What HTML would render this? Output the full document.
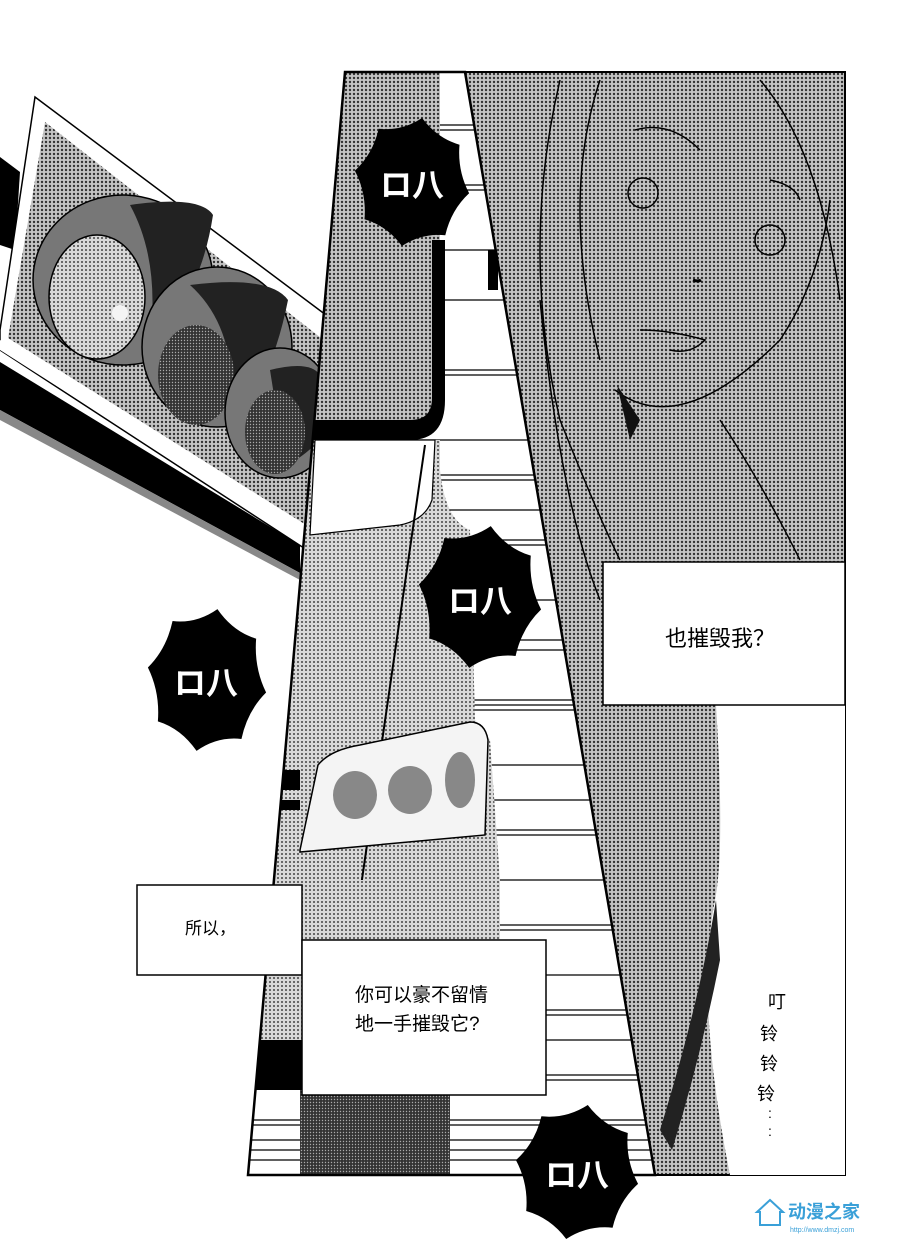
<!DOCTYPE html>
<html><head><meta charset="utf-8"><style>
html,body{margin:0;padding:0;background:#fff;}
svg{display:block;}
.t{font-family:"Liberation Sans","Noto Sans CJK SC",sans-serif;fill:#000;}
.b{font-family:"Liberation Sans","Noto Sans CJK SC",sans-serif;fill:#fff;font-weight:bold;}
</style></head><body>
<svg width="900" height="1247" viewBox="0 0 900 1247" xmlns="http://www.w3.org/2000/svg">
<defs>
<pattern id="dots" width="4" height="4" patternUnits="userSpaceOnUse"><rect width="4" height="4" fill="#c4c4c4"/><circle cx="2" cy="2" r="1.2" fill="#333"/></pattern>
<pattern id="dotl" width="4" height="4" patternUnits="userSpaceOnUse"><rect width="4" height="4" fill="#d8d8d8"/><circle cx="2" cy="2" r="1" fill="#444"/></pattern>
<pattern id="dark" width="3" height="3" patternUnits="userSpaceOnUse"><rect width="3" height="3" fill="#333"/><circle cx="1.5" cy="1.5" r="0.7" fill="#aaa"/></pattern>
<clipPath id="cp"><polygon points="345,72 465,72 655,1175 248,1175"/></clipPath>
<path id="burst" d="M .985 .174 Q .675 .43 .574 .819 Q .173 .781 -.174 .985 Q -.43 .675 -.819 .574 Q -.781 .173 -.985 -.174 Q -.675 -.43 -.574 -.819 Q -.173 -.781 .174 -.985 Q .43 -.675 .819 -.574 Q .781 -.173 .985 .174 Z"/>
</defs>

<!-- traffic light -->
<polygon points="0,157 20,172 15,250 0,245" fill="#000"/>
<polygon points="35,97 330,318 330,565 0,350 0,330 " fill="#fff" stroke="#000" stroke-width="1.5"/>
<polygon points="45,122 330,345 330,540 8,338" fill="url(#dots)"/>
<polygon points="0,350 330,560 330,545 0,340" fill="#fff"/>
<polygon points="0,362 300,545 300,573 0,410" fill="#000"/>
<polygon points="0,410 300,573 300,580 0,420" fill="#888"/>
<ellipse cx="123" cy="280" rx="90" ry="85" fill="#777" stroke="#000" stroke-width="1.5"/>
<path d="M130,205 Q200,195 213,215 Q200,300 150,340 Q160,260 130,205Z" fill="#222"/>
<ellipse cx="97" cy="297" rx="48" ry="62" fill="url(#dotl)" stroke="#000" stroke-width="1.5"/>
<circle cx="120" cy="313" r="8" fill="#f4f4f4"/>
<ellipse cx="217" cy="347" rx="75" ry="80" fill="#777" stroke="#000" stroke-width="1.5"/>
<path d="M190,285 Q270,275 288,300 Q270,390 230,420 Q240,330 190,285Z" fill="#222"/>
<ellipse cx="196" cy="375" rx="38" ry="50" fill="url(#dark)"/>
<ellipse cx="280" cy="413" rx="55" ry="65" fill="#777" stroke="#000" stroke-width="1.5"/>
<path d="M270,370 Q310,360 320,375 L320,440 Q300,460 285,465Z" fill="#222"/>
<ellipse cx="275" cy="432" rx="30" ry="42" fill="url(#dark)"/>

<!-- right panel -->
<polygon points="465,72 845,72 845,1175 655,1175" fill="url(#dots)" stroke="#000" stroke-width="2"/>
<path d="M716,705 Q725,850 715,900 Q695,1000 730,1175 L845,1175 L845,705 Z" fill="#fff"/>
<path d="M716,900 Q700,1000 660,1130 L672,1150 Q700,1060 720,960Z" fill="#222"/>
<g fill="none" stroke="#000" stroke-width="1.5">
<circle cx="643" cy="193" r="15"/><circle cx="770" cy="240" r="15"/>
<path d="M635,130 Q670,120 700,150"/><path d="M770,180 Q795,185 800,200"/>
<path d="M640,330 Q670,330 705,340 Q690,355 670,350"/>
<path d="M615,390 Q680,440 780,340 Q820,280 830,200"/>
<path d="M560,80 Q520,250 560,420 Q600,520 620,560"/>
<path d="M600,80 Q560,200 600,360"/>
<path d="M760,80 Q820,150 840,300"/>
<path d="M720,420 Q760,480 800,560"/>
<path d="M540,300 Q560,500 600,600"/>
</g>
<path d="M693,280 q5,2 8,0" stroke="#000" stroke-width="3" fill="none"/>
<path d="M617,385 L640,420 L630,440 Z" fill="#111"/>

<!-- center panel -->
<g clip-path="url(#cp)">
<rect x="240" y="72" width="420" height="1110" fill="#fff"/>
<g stroke="#000" stroke-width="1.2">
<line x1="400" y1="125" x2="660" y2="125"/><line x1="400" y1="130" x2="660" y2="130"/>
<line x1="400" y1="185" x2="660" y2="185"/><line x1="400" y1="190" x2="660" y2="190"/>
<line x1="400" y1="250" x2="660" y2="250"/><line x1="400" y1="300" x2="660" y2="300"/>
<line x1="400" y1="370" x2="660" y2="370"/><line x1="400" y1="375" x2="660" y2="375"/>
<line x1="400" y1="440" x2="660" y2="440"/><line x1="400" y1="475" x2="660" y2="475"/>
<line x1="400" y1="480" x2="660" y2="480"/><line x1="400" y1="510" x2="660" y2="510"/>
<line x1="400" y1="540" x2="660" y2="540"/><line x1="400" y1="545" x2="660" y2="545"/>
<line x1="400" y1="600" x2="660" y2="600"/><line x1="400" y1="640" x2="660" y2="640"/>
<line x1="400" y1="650" x2="660" y2="650"/><line x1="400" y1="700" x2="660" y2="700"/>
<line x1="400" y1="705" x2="660" y2="705"/><line x1="400" y1="710" x2="660" y2="710"/>
<line x1="400" y1="765" x2="660" y2="765"/><line x1="400" y1="800" x2="660" y2="800"/>
<line x1="400" y1="830" x2="660" y2="830"/><line x1="400" y1="835" x2="660" y2="835"/>
<line x1="400" y1="880" x2="660" y2="880"/><line x1="400" y1="925" x2="660" y2="925"/>
<line x1="400" y1="930" x2="660" y2="930"/><line x1="400" y1="975" x2="660" y2="975"/>
<line x1="400" y1="1010" x2="660" y2="1010"/><line x1="400" y1="1015" x2="660" y2="1015"/>
<line x1="400" y1="1040" x2="660" y2="1040"/><line x1="400" y1="1075" x2="660" y2="1075"/>
<line x1="400" y1="1080" x2="660" y2="1080"/><line x1="240" y1="1120" x2="660" y2="1120"/>
<line x1="240" y1="1125" x2="660" y2="1125"/><line x1="240" y1="1140" x2="660" y2="1140"/>
<line x1="240" y1="1150" x2="660" y2="1150"/><line x1="240" y1="1160" x2="660" y2="1160"/>
</g>
<polygon points="368,72 382,72 435,230 420,230" fill="#000"/>
<polygon points="345,72 370,72 420,230 345,230" fill="url(#dots)"/>
<path d="M240,72 L440,72 L440,400 Q440,430 410,430 L240,430 Z" fill="url(#dots)"/>
<path d="M240,420 L410,420 Q432,420 432,398 L432,240 L445,240 L445,400 Q445,440 410,440 L240,440Z" fill="#000"/>
<path d="M488,250 L498,250 L498,290 L488,290Z" fill="#000"/>
<path d="M240,440 L440,440 L440,470 Q445,520 470,530 L475,720 L490,740 L500,880 L240,880Z" fill="url(#dotl)"/>
<path d="M315,440 L435,440 L432,500 Q425,520 400,525 L310,535 Z" fill="#fff" stroke="#000" stroke-width="1.2"/>
<line x1="425" y1="445" x2="330" y2="1100" stroke="#000" stroke-width="2"/>
<path d="M300,850 L318,765 Q330,750 360,745 L470,722 Q485,722 488,740 L485,835 L300,852Z" fill="#f4f4f4" stroke="#000" stroke-width="1.5"/>
<ellipse cx="355" cy="795" rx="22" ry="24" fill="#888"/>
<ellipse cx="410" cy="790" rx="22" ry="24" fill="#888"/>
<ellipse cx="460" cy="780" rx="15" ry="28" fill="#888"/>
<rect x="270" y="770" width="30" height="20" fill="#000"/>
<rect x="270" y="800" width="30" height="10" fill="#000"/>
<rect x="240" y="880" width="260" height="70" fill="url(#dotl)"/>
<rect x="240" y="950" width="62" height="90" fill="url(#dotl)"/>
<rect x="240" y="1040" width="62" height="50" fill="#000"/>
<rect x="300" y="1090" width="150" height="90" fill="url(#dark)"/>
</g>
<polygon points="345,72 465,72 655,1175 248,1175" fill="none" stroke="#000" stroke-width="2.5"/>

<rect x="603" y="562" width="242" height="143" fill="#fff" stroke="#000" stroke-width="1.5"/>
<text class="t" x="665" y="646" font-size="22">也摧毁我？</text>
<rect x="137" y="885" width="165" height="90" fill="#fff" stroke="#000" stroke-width="1.5"/>
<text class="t" x="185" y="934" font-size="17">所以，</text>
<rect x="302" y="940" width="244" height="155" fill="#fff" stroke="#000" stroke-width="1.5"/>
<text class="t" x="355" y="1001" font-size="19">你可以豪不留情</text>
<text class="t" x="355" y="1030" font-size="19">地一手摧毁它?</text>

<g transform="translate(412,182) scale(58,65)"><use href="#burst" fill="#000"/></g>
<g transform="translate(480,597) scale(62,72)"><use href="#burst" fill="#000"/></g>
<g transform="translate(207,680) scale(60,72)"><use href="#burst" fill="#000"/></g>
<g transform="translate(577,1172) scale(62,68)"><use href="#burst" fill="#000"/></g>
<text class="b" x="380" y="196" font-size="32">ロ八</text>
<text class="b" x="448" y="612" font-size="32">ロ八</text>
<text class="b" x="174" y="694" font-size="32">ロ八</text>
<text class="b" x="545" y="1186" font-size="32">ロ八</text>

<text class="t" font-size="18" x="768" y="1008">叮</text>
<text class="t" font-size="18" x="760" y="1040">铃</text>
<text class="t" font-size="18" x="760" y="1070">铃</text>
<text class="t" font-size="18" x="757" y="1100">铃</text>
<text class="t" font-size="14" x="768" y="1118">:</text>
<text class="t" font-size="14" x="768" y="1136">:</text>

<path d="M757,1212 L770,1200 L783,1212 L780,1212 L780,1225 L760,1225 L760,1212Z" fill="none" stroke="#3aa0d8" stroke-width="2"/>
<text x="788" y="1218" font-size="18" font-weight="bold" fill="#3aa0d8" font-family="Liberation Sans,Noto Sans CJK SC,sans-serif">动漫之家</text>
<text x="790" y="1232" font-size="7" fill="#3aa0d8" font-family="Liberation Sans,sans-serif">http://www.dmzj.com</text>
</svg>
</body></html>
